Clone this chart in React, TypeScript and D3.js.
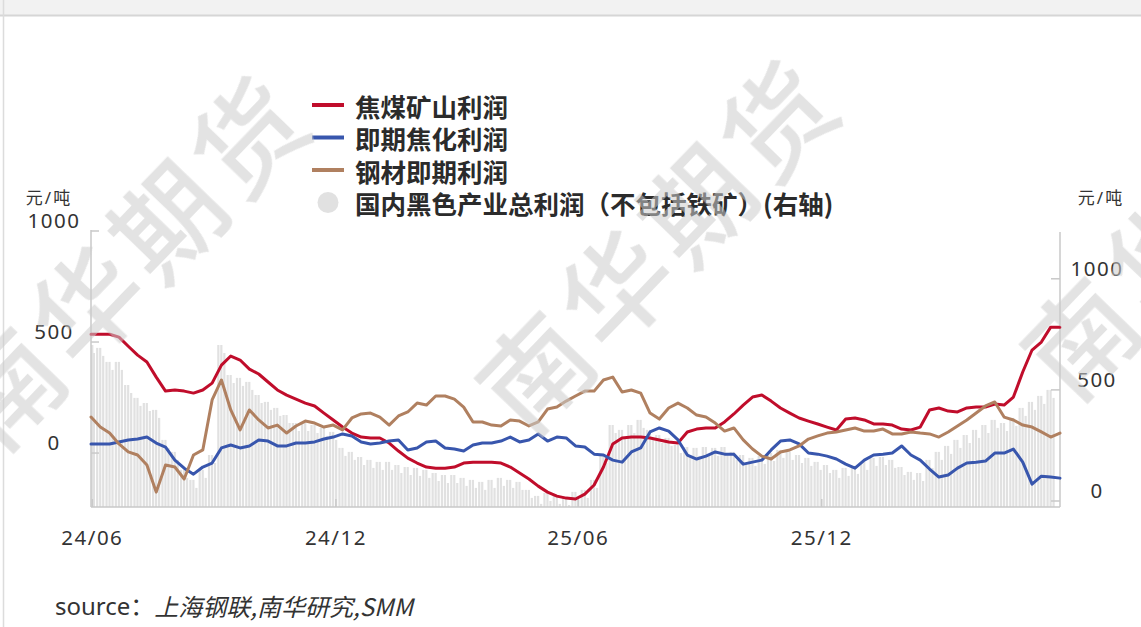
import React from 'react';
import * as d3 from 'd3';

const START = '2024-05-31';
const WEEK_STEP = 7;
const END_OFFSET_DAYS = 728;

// 焦煤矿山利润 (left axis, 元/吨), weekly
const redValues = [535,535,535,522,481,441,410,342,279,284,279,270,284,315,396,437,419,378,356,320,284,261,243,225,212,180,149,117,90,72,68,68,45,9,-23,-45,-63,-68,-68,-63,-45,-41,-41,-41,-45,-63,-90,-117,-149,-176,-194,-203,-207,-185,-144,-63,41,68,72,72,68,59,50,45,95,108,113,113,140,176,216,252,261,234,203,180,158,144,131,117,104,153,158,149,131,131,126,108,104,117,194,203,189,185,203,207,207,221,216,252,365,464,500,567,567];
// 即期焦化利润 (left axis)
const blueValues = [41,41,41,50,59,63,72,45,27,-32,-68,-95,-63,-45,23,36,23,32,59,54,32,32,45,45,50,63,72,86,77,50,41,45,54,59,14,23,50,54,23,18,9,36,45,45,54,72,50,59,86,54,72,68,32,27,-5,-9,-32,-41,5,23,95,113,99,59,-9,-27,-14,5,-5,-5,-50,-41,-32,14,54,59,41,0,-5,-14,-27,-50,-68,-32,-9,-5,0,32,-9,-32,-72,-108,-99,-68,-45,-41,-36,0,0,18,-41,-140,-104,-108,-113];
// 钢材即期利润 (left axis)
const brownValues = [162,117,90,41,5,-9,-54,-176,-54,-63,-117,-9,14,239,329,194,104,194,149,113,126,90,122,144,135,117,126,104,158,176,180,162,126,167,185,225,216,257,257,243,207,140,140,126,122,149,144,122,140,198,207,234,257,279,279,329,342,275,284,270,180,153,203,225,203,171,162,135,99,113,59,18,-14,-27,5,14,32,63,77,90,95,104,113,99,99,108,86,86,95,90,86,72,95,122,149,180,212,230,162,149,126,117,95,72,90];
// 国内黑色产业总利润（不包括铁矿）(right axis)
const barValues = [702,689,626,626,522,464,441,410,275,221,140,95,140,207,702,567,554,536,477,446,419,387,351,351,342,329,311,239,221,198,185,176,176,162,153,149,140,126,117,117,104,95,86,95,104,95,86,50,23,36,23,18,41,50,95,207,342,320,342,365,320,297,284,252,243,239,243,239,243,221,207,194,203,216,230,221,207,194,176,162,140,149,158,176,194,198,185,153,131,126,185,221,248,275,297,320,342,365,351,374,419,446,473,500];

const leftTicks = [0, 500, 1000];
const rightTicks = [0, 500, 1000];
const xTickDates = ['2024-06-01', '2024-12-01', '2025-06-01', '2025-12-01'];
const xTickLabels = ['24/06', '24/12', '25/06', '25/12'];

const seriesNames = ['焦煤矿山利润', '即期焦化利润', '钢材即期利润', '国内黑色产业总利润（不包括铁矿）(右轴)'];
const seriesColors = ['#c00d2b', '#3856ad', '#b08060', '#e1e1e1'];
const unitLabel = '元/吨';
const sourceLabel = 'source：';
const sourceText = '上海钢联,南华研究,SMM';
const watermarkText = '南华期货';

export default function App() {
  const parse = d3.timeParse('%Y-%m-%d');
  const start = parse(START) as Date;
  const end = d3.timeDay.offset(start, END_OFFSET_DAYS);
  const dates = d3.range(redValues.length).map((i) => d3.timeDay.offset(start, i * WEEK_STEP));

  const left = 91, right = 1060, top = 231, bottom = 507;
  const x = d3.scaleTime().domain([start, end]).range([left, right]);
  const yL = d3.scaleLinear().domain([-243, 1000]).range([bottom, top]);
  const yR = d3.scaleLinear().domain([-27, 1215]).range([bottom, top]);

  const line = d3.line<number>().x((_, i) => x(dates[i])).y((v) => yL(v)).curve(d3.curveLinear);

  const font = '"Noto Sans", "Noto Sans CJK SC", sans-serif';
  const axisColor = '#c9c9c9';
  const textColor = '#333';
  const stripeOffsets = [-4.2, -1.2, 1.8];
  const stripeW = 2.2;

  const lineSeries = [redValues, blueValues, brownValues];

  return (
    <svg width={1141} height={627} style={{ position: 'absolute', left: 0, top: 0, background: '#fff' }} fontFamily={font}>
      {/* frame */}
      <rect x={0} y={0} width={1141} height={15} fill="#f2f2f2" />
      <line x1={0} x2={1141} y1={15.5} y2={15.5} stroke="#d6d6d6" strokeWidth={2} />
      <line x1={3.5} x2={3.5} y1={0} y2={627} stroke="#dcdcdc" strokeWidth={1.5} />

      {/* bars */}
      <g fill={seriesColors[3]}>
        {barValues.map((v, i) => {
          const cx = x(dates[i]);
          const yy = yR(v);
          return stripeOffsets.map((o, j) => {
            const h = bottom - yy - (j === 1 ? 0 : 4 * j);
            return (
              <rect key={i + '-' + j} x={Math.max(left, cx + o)} y={bottom - h} width={stripeW} height={Math.max(0, h)} />
            );
          });
        })}
      </g>

      {/* axes */}
      <g stroke={axisColor} strokeWidth={1.5}>
        <line x1={left} x2={left} y1={top - 1} y2={bottom} />
        <line x1={right} x2={right} y1={top + 1} y2={bottom} />
        <line x1={left} x2={right} y1={bottom} y2={bottom} />
        {leftTicks.map((t) => (
          <line key={'lt' + t} x1={left} x2={left + 8} y1={yL(t)} y2={yL(t)} />
        ))}
        {rightTicks.map((t) => (
          <line key={'rt' + t} x1={right - 9} x2={right} y1={yR(t)} y2={yR(t)} />
        ))}
        {xTickDates.map((d) => {
          const xx = x(parse(d) as Date);
          return <line key={d} x1={xx} x2={xx} y1={bottom} y2={bottom - 8} />;
        })}
      </g>

      {/* lines */}
      {lineSeries.map((vals, k) => (
        <path key={k} d={line(vals) || ''} fill="none" stroke={seriesColors[k]} strokeWidth={3} strokeLinejoin="round" strokeLinecap="round" />
      ))}

      {/* axis labels */}
      <g fill={textColor} fontSize={20.5} letterSpacing={1.5}>
        {leftTicks.map((t) => (
          <text key={'ll' + t} x={54} y={yL(t) - 11} textAnchor="middle" dominantBaseline="central">{t}</text>
        ))}
        {rightTicks.map((t) => (
          <text key={'rl' + t} x={1097} y={yR(t) - 11} textAnchor="middle" dominantBaseline="central">{t}</text>
        ))}
        {xTickDates.map((d, i) => (
          <text key={'xl' + d} x={x(parse(d) as Date)} y={537} textAnchor="middle" dominantBaseline="central">{xTickLabels[i]}</text>
        ))}
      </g>
      <g fill={textColor} fontSize={17} letterSpacing={2}>
        <text x={49} y={197} textAnchor="middle" dominantBaseline="central">{unitLabel}</text>
        <text x={1101} y={197} textAnchor="middle" dominantBaseline="central">{unitLabel}</text>
      </g>

      {/* legend */}
      <g>
        {seriesNames.map((name, i) => {
          const cy = 105 + i * 32.5;
          return (
            <g key={name}>
              {i < 3 ? (
                <line x1={312} x2={344} y1={cy} y2={cy} stroke={seriesColors[i]} strokeWidth={4} />
              ) : (
                <circle cx={328} cy={cy} r={10.5} fill={seriesColors[3]} />
              )}
              <text x={355} y={cy} dominantBaseline="central" fontSize={25.5} fontWeight="bold" fill="#2b2b2b"
                fontFamily='"Noto Sans CJK SC", "Noto Sans", sans-serif'>{name}</text>
            </g>
          );
        })}
      </g>

      {/* source */}
      <text x={55} y={605} dominantBaseline="central" fontSize={24} fill={textColor}>
        <tspan>{sourceLabel}</tspan>
        <tspan fontStyle="italic" fontFamily='"Noto Sans CJK SC", sans-serif'>{sourceText}</tspan>
      </text>

      {/* watermark */}
      <g fill="#cdcdcd" opacity={0.55} fontSize={108} fontWeight={500} fontFamily='"Noto Sans CJK SC", sans-serif' letterSpacing={8}>
        {[[126, 256], [655, 240], [1200, 206]].map(([cx, cy], i) => (
          <text key={i} x={cx} y={cy} textAnchor="middle" dominantBaseline="central" transform={`rotate(-46 ${cx} ${cy})`}>{watermarkText}</text>
        ))}
      </g>
    </svg>
  );
}
